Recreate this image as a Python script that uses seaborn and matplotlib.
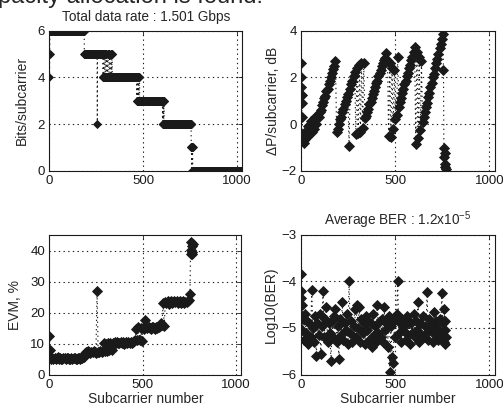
import numpy as np
import pandas as pd
import seaborn as sns
import matplotlib.pyplot as plt

# bit loading per subcarrier (1..1024), read as runs of equal value
bit_vals = [4, 5, 6, 5, 2, 5,
            4, 5, 4, 5, 4, 5, 4, 5, 4, 5, 4, 5, 4, 5,
            4,
            3, 4, 3, 4, 3, 4,
            3,
            2, 3, 2, 3, 2,
            2,
            1, 0, 1, 0, 1, 0]
bit_runs = [1, 1, 184, 69, 1, 29,
            3, 3, 4, 3, 4, 3, 5, 3, 5, 3, 6, 2, 4, 2,
            130,
            2, 3, 3, 2, 3, 3,
            122,
            2, 2, 3, 2, 2,
            142,
            2, 1, 2, 1, 2, 260]

# sampled subcarriers for the other three panels
sub_idx = np.concatenate([np.arange(1, 7), np.arange(10, 756, 6), np.arange(757, 770, 2)])

dp_db = [2.6, 2.0, 1.6, 1.25, 0.9, 0.3,
         -0.5, -0.8, -0.65, -0.3, -0.55, -0.1, -0.45, 0.15, -0.35, 0.05,
         -0.2, 0.3, 0.0, 0.35, 0.3, 0.5, 0.6, 0.8, 0.95, 1.1,
         1.2, 1.4, 1.5, 1.7, 1.85, 2.0, 2.2, 2.35, 2.5, 2.7,
         -0.35, -0.2, 0.0, 0.2, 0.3, 0.5, 0.65, 0.85, 1.0, 1.15,
         1.3, -0.95, 1.5, 1.7, 1.85, 2.05, 2.25, -0.45, 2.4, -0.4,
         2.55, -0.35, 2.6, -0.15, 2.6, 0.25, 0.35, 0.5, 0.65, 0.85,
         0.95, 1.1, 1.3, 1.4, 1.6, 1.75, 1.85, 2.05, 2.2, 2.3,
         2.5, 2.6, 2.75, 2.85, 3.05, 2.7, -0.5, 2.6, -0.55, 2.4,
         -0.2, 2.3, 0.2, 0.4, 2.9, 0.75, 0.95, 1.1, 1.35, 1.5,
         1.7, 1.85, 2.05, 2.2, 2.4, 2.55, 2.75, 2.9, 3.1, 3.3,
         -0.85, 3.1, -0.6, 2.9, -0.25, 2.7, 0.1, 0.3, 0.5, 0.75,
         0.9, 1.15, 1.35, 1.6, 1.75, 2.0, 2.15, 2.4, 2.6, 2.8,
         3.0, 3.25, 3.45, 3.65, 3.85,
         2.3, -1.05, -1.4, -1.85, -1.25, -1.7, -1.95]

evm_pct = [12.5, 8.0, 5.6, 5.3, 5.5, 5.2,
           5.0, 5.4, 5.1, 5.3, 4.9, 5.2, 5.5, 5.0, 5.3, 5.1,
           4.9, 5.2, 5.4, 5.0, 5.2, 5.3, 4.9, 5.1, 5.4, 5.0,
           5.2, 5.3, 5.0, 5.1, 5.4, 5.2, 4.9, 5.3, 5.2, 5.5,
           7.1, 7.4, 7.2, 7.5, 7.3, 7.0, 7.4, 7.2, 7.5, 7.3,
           7.1, 27.0, 7.4, 7.2, 7.6, 7.3, 7.5, 10.2, 7.6, 10.0,
           7.7, 10.3, 7.8, 10.1, 7.8, 10.3, 10.0, 10.4, 10.2, 10.5,
           10.1, 10.3, 10.6, 10.2, 10.4, 10.0, 10.3, 10.5, 10.2, 10.4,
           10.1, 10.6, 10.3, 10.5, 10.8, 11.0, 14.8, 11.2, 15.2, 11.0,
           15.0, 10.8, 15.1, 14.8, 17.5, 15.2, 14.9, 15.3, 15.0, 14.7,
           15.2, 15.4, 15.0, 14.8, 15.3, 15.1, 15.5, 15.8, 16.5, 16.0,
           23.2, 15.6, 23.5, 23.0, 23.6, 22.9, 23.4, 23.7, 23.2, 23.5,
           23.8, 23.3, 23.6, 23.1, 23.5, 23.7, 23.2, 23.4, 23.6, 23.0,
           23.5, 23.3, 23.6, 24.0, 26.0,
           39.0, 42.8, 40.2, 38.8, 41.6, 39.6, 42.2]

log_ber = [-3.85, -4.2, -4.35, -4.5, -4.75, -5.05,
           -4.8, -5.25, -4.7, -5.1, -4.85, -5.35, -4.9, -5.2, -4.18, -5.0,
           -5.3, -4.75, -5.6, -4.9, -5.15, -4.7, -5.55, -4.95, -4.2, -5.2,
           -4.8, -4.55, -5.3, -4.9, -5.1, -5.72, -4.85, -5.2, -4.75, -4.6,
           -5.3, -4.95, -5.67, -4.8, -5.15, -4.45, -5.25, -4.9, -5.05, -4.7,
           -5.35, -4.0, -5.1, -4.85, -5.3, -4.95, -4.6, -5.2, -4.5, -5.0,
           -4.55, -5.3, -4.8, -5.1, -4.9, -5.35, -4.75, -5.05, -4.85, -5.25,
           -4.9, -5.4, -4.7, -5.15, -4.95, -5.3, -4.5, -5.1, -4.85, -5.2,
           -4.8, -5.3, -4.55, -5.05, -4.9, -5.4, -4.75, -5.95, -4.95, -5.62,
           -5.75, -4.85, -5.2, -4.7, -4.0, -5.1, -4.9, -5.3, -4.8, -5.05,
           -4.95, -5.25, -4.75, -5.15, -4.85, -5.35, -4.9, -5.1, -4.7, -5.2,
           -4.85, -5.05, -4.45, -5.3, -4.9, -5.15, -4.75, -5.2, -4.95, -5.1,
           -4.22, -5.25, -4.8, -5.05, -4.9, -5.3, -4.65, -5.15, -4.85, -5.0,
           -5.25, -4.8, -5.1, -4.25, -5.2,
           -4.9, -5.3, -4.6, -5.05, -5.35, -4.85, -5.2]

df_bits = pd.DataFrame({'sc': np.arange(1, 1025), 'bits': np.repeat(bit_vals, bit_runs)})
df = pd.DataFrame({'sc': sub_idx, 'dp': dp_db, 'evm': evm_pct, 'ber': log_ber})

sns.set_theme(style='white')
plt.rcParams['font.family'] = ['Liberation Sans', 'DejaVu Sans']
plt.rcParams['mathtext.default'] = 'regular'

fig = plt.figure(figsize=(5.03, 4.12), dpi=100)
ax1 = fig.add_axes([0.098, 0.586, 0.384, 0.339])
ax2 = fig.add_axes([0.598, 0.586, 0.386, 0.339])
ax3 = fig.add_axes([0.098, 0.091, 0.382, 0.338])
ax4 = fig.add_axes([0.598, 0.091, 0.386, 0.339])

dots = (0, (1.2, 3))
line_kw = dict(color='k', linestyle=dots, linewidth=0.8, marker='D',
               markeredgecolor='k', markerfacecolor='k', markeredgewidth=0.6,
               estimator=None, sort=False, legend=False)

sns.lineplot(data=df_bits, x='sc', y='bits', ax=ax1, markersize=3.6, **line_kw)
sns.lineplot(data=df, x='sc', y='dp', ax=ax2, markersize=4.6, **line_kw)
sns.lineplot(data=df, x='sc', y='evm', ax=ax3, markersize=4.6, **line_kw)
sns.lineplot(data=df, x='sc', y='ber', ax=ax4, markersize=4.6, **line_kw)

setup = [(ax1, (0, 6), [0, 2, 4, 6], 'Bits/subcarrier', -0.105),
         (ax2, (-2, 4), [-2, 0, 2, 4], '\u0394P/subcarrier, dB', -0.105),
         (ax3, (0, 45), [0, 10, 20, 30, 40], 'EVM, %', -0.14),
         (ax4, (-6, -3), [-6, -5, -4, -3], 'Log10(BER)', -0.12)]
for ax, yl, yt, lab, lx in setup:
    ax.set_xlim(0, 1030)
    ax.set_ylim(*yl)
    ax.set_xticks([0, 500, 1000])
    ax.set_yticks(yt)
    ax.set_ylabel(lab, fontsize=10)
    ax.yaxis.set_label_coords(lx, 0.5)
    ax.set_xlabel('')
    ax.grid(True, color='k', linestyle=dots, linewidth=0.8)
    ax.set_axisbelow(True)
    ax.tick_params(direction='in', length=3, width=0.6, labelsize=9.5, pad=3,
                   top=True, right=True, colors='k')
    for s in ax.spines.values():
        s.set_color('k')
        s.set_linewidth(0.8)

for ax in (ax3, ax4):
    ax.set_xlabel('Subcarrier number', fontsize=10)
    ax.xaxis.set_label_coords(0.5, -0.125)

ax1.set_title('Total data rate : 1.501 Gbps', fontsize=9.8, pad=7)
ax4.set_title('Average BER : 1.2x10$^{-5}$', fontsize=9.8, pad=7)

fig.text(-0.004, 1 - 3.5 / 412, 'pacity allocation is found:', fontsize=17,
         ha='left', va='baseline')

plt.savefig('out.png', dpi=100)
